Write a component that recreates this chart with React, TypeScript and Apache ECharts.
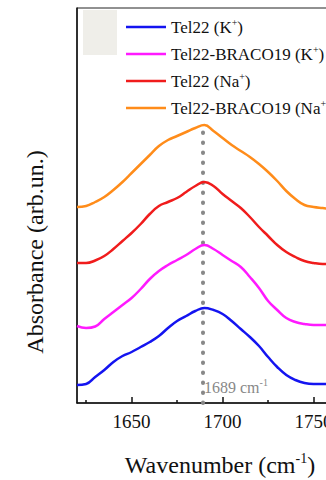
import React, { useEffect, useRef } from 'react';
import * as echarts from 'echarts';

const wavenumbers = [1620, 1625, 1630, 1635, 1640, 1645, 1650, 1655, 1660, 1665, 1670, 1675, 1680, 1685, 1690, 1695, 1700, 1705, 1710, 1715, 1720, 1725, 1730, 1735, 1740, 1745, 1750, 1755, 1760, 1765];

const tel22K = [0.18, 0.19, 0.26, 0.33, 0.41, 0.47, 0.51, 0.56, 0.61, 0.67, 0.75, 0.82, 0.87, 0.92, 0.95, 0.93, 0.89, 0.82, 0.74, 0.66, 0.57, 0.46, 0.36, 0.28, 0.23, 0.20, 0.19, 0.19, 0.19, 0.19];
const tel22BracoK = [0.77, 0.75, 0.765, 0.84, 0.91, 0.98, 1.05, 1.14, 1.24, 1.32, 1.38, 1.43, 1.48, 1.54, 1.58, 1.54, 1.48, 1.42, 1.36, 1.26, 1.15, 1.02, 0.93, 0.85, 0.81, 0.79, 0.78, 0.78, 0.78, 0.78];
const tel22Na = [1.40, 1.40, 1.425, 1.47, 1.54, 1.62, 1.70, 1.79, 1.89, 1.97, 2.01, 2.05, 2.11, 2.17, 2.21, 2.17, 2.09, 2.02, 1.95, 1.86, 1.76, 1.67, 1.58, 1.51, 1.46, 1.42, 1.40, 1.39, 1.39, 1.39];
const tel22BracoNa = [1.96, 1.97, 2.01, 2.06, 2.13, 2.21, 2.30, 2.39, 2.48, 2.57, 2.63, 2.67, 2.71, 2.75, 2.78, 2.72, 2.65, 2.58, 2.52, 2.46, 2.39, 2.31, 2.22, 2.12, 2.04, 1.98, 1.96, 1.95, 1.94, 1.94];

const seriesNames = ['Tel22 (K+)', 'Tel22-BRACO19 (K+)', 'Tel22 (Na+)', 'Tel22-BRACO19 (Na+)'];
const seriesColors = ['#1414f0', '#ff1aff', '#f01c1c', '#ff8c1a'];
const majorTicks = [1650, 1700, 1750];
const minorTicks = [1625, 1675, 1725];
const peakPosition = 1689;
const peakTop = 2.8;

export default function App() {
  const ref = useRef<HTMLDivElement>(null);
  useEffect(() => {
    const chart = echarts.init(ref.current!, null, { renderer: 'svg' });
    const serif = 'Liberation Serif';
    const allData = [tel22K, tel22BracoK, tel22Na, tel22BracoNa];
    const series = allData.map((vals, i) => {
      const s: any = {
        name: seriesNames[i],
        type: 'line',
        data: wavenumbers.map((w, j) => [w, vals[j]]),
        showSymbol: false,
        symbol: 'none',
        smooth: 0.45,
        color: seriesColors[i],
        lineStyle: { width: 2.5, color: seriesColors[i] },
        z: 3,
      };
      if (i === 3) {
        s.markLine = {
          silent: true,
          symbol: ['none', 'none'],
          label: { show: false },
          lineStyle: { color: '#888888', width: 4, type: [0.5, 9.5], cap: 'round' },
          data: [[{ coord: [peakPosition, 0] }, { coord: [peakPosition, peakTop] }]],
          z: 1,
        };
      }
      return s;
    });
    chart.setOption({
      animation: false,
      backgroundColor: '#ffffff',
      textStyle: { fontFamily: serif },
      grid: { left: 77, top: 8, right: 10, bottom: 77, show: true, borderColor: '#222', borderWidth: 1 },
      xAxis: [
        {
          type: 'value', min: 1620, max: 1770, position: 'bottom',
          axisLine: { show: true, lineStyle: { color: '#111', width: 1.5 } },
          axisTick: { show: true, inside: true, length: 6, lineStyle: { color: '#111', width: 1.5 }, customValues: majorTicks },
          axisLabel: { show: true, customValues: majorTicks, formatter: (v: number) => String(v), fontFamily: serif, fontSize: 19, color: '#111', margin: 9 },
          splitLine: { show: false },
        },
        {
          type: 'value', min: 1620, max: 1770, position: 'bottom',
          axisLine: { show: false },
          axisTick: { show: true, inside: true, length: 3, lineStyle: { color: '#111', width: 1.5 }, customValues: minorTicks },
          axisLabel: { show: false },
          splitLine: { show: false },
        },
      ],
      yAxis: {
        type: 'value', min: 0, max: 3.95,
        axisLine: { show: true, lineStyle: { color: '#111', width: 1.5 } },
        axisTick: { show: false }, axisLabel: { show: false }, splitLine: { show: false },
      },
      legend: {
        data: seriesNames,
        orient: 'vertical',
        left: 121,
        top: 12,
        itemWidth: 40,
        itemHeight: 2.5,
        itemGap: 7,
        icon: 'rect',
        formatter: (name: string) => {
          const m = name.match(/^(.*\()(K|Na)\+\)$/);
          if (!m) return name;
          return `{t|${m[1]}${m[2]}}{s|+}{t|)}`;
        },
        textStyle: {
          fontFamily: serif, fontSize: 17, color: '#111', lineHeight: 20,
          rich: {
            t: { fontFamily: serif, fontSize: 17, color: '#111', lineHeight: 20 },
            s: { fontFamily: serif, fontSize: 10, color: '#111', lineHeight: 12, verticalAlign: 'top' },
          },
        },
      },
      graphic: [
        { type: 'rect', shape: { x: 83, y: 10, width: 34, height: 45 }, style: { fill: '#efeee9' }, z: 10 },
        {
          type: 'text', x: 35, y: 252, rotation: Math.PI / 2,
          style: { text: 'Absorbance (arb.un.)', fontFamily: serif, fontSize: 24, fill: '#111', align: 'center', verticalAlign: 'middle' },
        },
        {
          type: 'text', x: 220, y: 465,
          style: {
            text: '{a|Wavenumber (cm}{s|-1}{a|)}', align: 'center', verticalAlign: 'middle',
            rich: {
              a: { fontFamily: serif, fontSize: 24, fill: '#111', color: '#111', lineHeight: 28 },
              s: { fontFamily: serif, fontSize: 14, fill: '#111', color: '#111', lineHeight: 16, verticalAlign: 'top' },
            },
          },
        },
        {
          type: 'text', x: 204, y: 387,
          style: {
            text: '{a|1689 cm}{s|-1}', align: 'left', verticalAlign: 'middle',
            rich: {
              a: { fontFamily: serif, fontSize: 16, fill: '#888', color: '#888', lineHeight: 20 },
              s: { fontFamily: serif, fontSize: 10, fill: '#888', color: '#888', lineHeight: 12, verticalAlign: 'top' },
            },
          },
        },
      ],
      series,
    });
    return () => chart.dispose();
  }, []);
  return (
    <div style={{ position: 'absolute', left: 0, top: 0, width: 326, height: 480, overflow: 'hidden', background: '#fff' }}>
      <div ref={ref} style={{ width: 360, height: 480 }} />
    </div>
  );
}
